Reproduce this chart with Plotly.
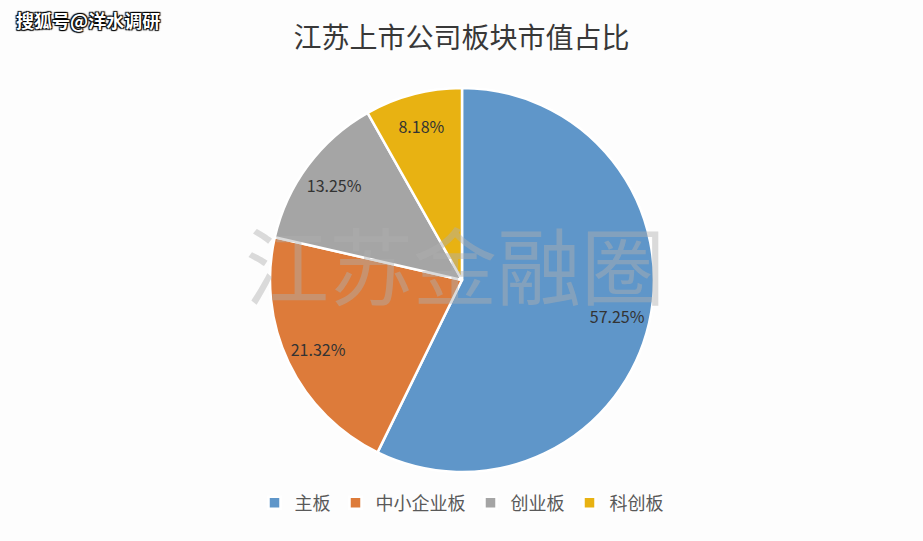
import plotly.graph_objects as go

labels = ["主板", "中小企业板", "创业板", "科创板"]
values = [57.25, 21.32, 13.25, 8.18]
colors = ["#5F96C9", "#DD7B3A", "#A5A5A5", "#E8B212"]
title_text = "江苏上市公司板块市值占比"
watermark_big = "江苏金融圈"
watermark_small = "搜狐号@洋水调研"

W, H = 923, 541
cx, cy, r = 462, 280, 192
dom = dict(x=[(cx - r) / W, (cx + r) / W], y=[(H - cy - r) / H, (H - cy + r) / H])

fig = go.Figure()
# filled pie (no text)
fig.add_trace(go.Pie(
    labels=labels, values=values, sort=False, direction="clockwise", rotation=0,
    marker=dict(colors=colors, line=dict(color="white", width=2.5)),
    textinfo="none", hoverinfo="label+percent", domain=dom,
))
# transparent ring carrying the data labels at ~0.82 r
fig.add_trace(go.Pie(
    labels=labels, values=values, sort=False, direction="clockwise", rotation=0,
    hole=0.66, showlegend=False, hoverinfo="skip",
    marker=dict(colors=["rgba(0,0,0,0)"] * len(values), line=dict(width=0)),
    texttemplate="%{value:.2f}%", textposition="inside", insidetextorientation="horizontal",
    textfont=dict(family="Noto Sans CJK SC", size=16, color="#333333"),
    domain=dom,
))

fig.update_layout(
    width=W, height=H,
    margin=dict(l=0, r=0, t=0, b=0),
    paper_bgcolor="#FDFDFD", plot_bgcolor="#FDFDFD",
    title=dict(text=title_text, x=0.5, xanchor="center", y=1 - 38 / H, yanchor="middle",
               font=dict(family="Noto Sans CJK SC", size=28, color="#383838")),
    legend=dict(orientation="h", x=0.5, xanchor="center", y=1 - 503 / H, yanchor="middle",
                font=dict(family="Noto Sans CJK SC", size=18, color="#595959"),
                itemwidth=30, traceorder="normal"),
    annotations=[
        dict(text=watermark_big, x=455 / W, y=1 - 262 / H, xref="paper", yref="paper",
             showarrow=False, xanchor="center", yanchor="middle",
             font=dict(family="Noto Sans CJK SC", size=84, color="rgba(175,175,175,0.45)")),
        dict(text=watermark_small, x=14 / W, y=1 - 20 / H, xref="paper", yref="paper",
             showarrow=False, xanchor="left", yanchor="middle",
             font=dict(family="Noto Sans CJK SC", size=18, color="white", weight="bold",
                       shadow="1px 1px 1px #000, -1px -1px 1px #000, 1px -1px 1px #000, -1px 1px 1px #000")),
    ],
)

fig.write_html("out.html")
